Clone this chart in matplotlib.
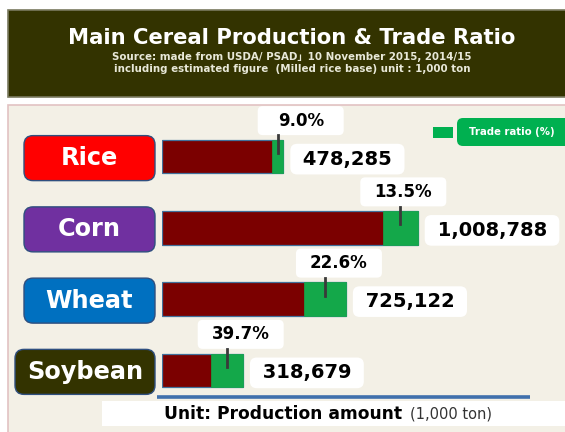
import matplotlib
matplotlib.use('Agg')
import matplotlib.pyplot as plt
from matplotlib.patches import FancyBboxPatch, Rectangle

# ---------------- data ----------------
categories = ['Rice', 'Corn', 'Wheat', 'Soybean']
production = [478285, 1008788, 725122, 318679]      # 1,000 ton
trade_ratio = [9.0, 13.5, 22.6, 39.7]               # %

title = 'Main Cereal Production & Trade Ratio'
subtitle1 = 'Source: made from USDA/ PSAD\u300d10 November 2015, 2014/15'
subtitle2 = 'including estimated figure  (Milled rice base) unit : 1,000 ton'
legend_label = 'Trade ratio (%)'
unit_main = 'Unit: Production amount'
unit_sub = '(1,000 ton)'

# ---------------- styles / layout ----------------
cat_colors = ['#ff0000', '#7030a0', '#0070c0', '#333300']
cat_box_left = [24, 24, 24, 15]         # px
pct_dx = [23, 3, 14, 14]                # px offset of % label from green centre
BAR_RED = '#7b0000'
GREEN = '#14a84a'
LEG_GREEN = '#00b050'
FAMILY = ['DejaVu Sans', 'Noto Sans CJK JP']

W, H = 565, 432
fig = plt.figure(figsize=(W / 100, H / 100), dpi=100)
fig.patch.set_facecolor('white')

bg = fig.add_axes([0, 0, 1, 1])
bg.set_xlim(0, W); bg.set_ylim(H, 0); bg.axis('off')

# bar axes
ax = fig.add_axes([162 / W, (H - 406) / H, 380 / W, 285 / H])
ax.set_xlim(0, 1_500_000)
ax.set_ylim(len(categories) - 0.5, -0.5)
ax.axis('off')
ax.patch.set_alpha(0)

fg = fig.add_axes([0, 0, 1, 1])
fg.set_xlim(0, W); fg.set_ylim(H, 0); fg.axis('off')
fg.patch.set_alpha(0)

# ---------------- background decorations ----------------
bg.add_patch(Rectangle((8, 10), W, 87, facecolor='#333300', edgecolor='#7a7a60', lw=1.2))
bg.add_patch(Rectangle((8, 105), W, H, facecolor='#f3f0e6', edgecolor='#e2c2c2', lw=1.2))
bg.text(292, 38, title, color='white', fontsize=15.2, fontweight='bold',
        ha='center', va='center', family=FAMILY)
bg.text(292, 57, subtitle1, color='#e8e8d8', fontsize=7.4, fontweight='bold',
        ha='center', va='center', family=FAMILY)
bg.text(292, 69, subtitle2, color='#e8e8d8', fontsize=7.4, fontweight='bold',
        ha='center', va='center', family=FAMILY)

# legend
bg.add_patch(Rectangle((433, 127), 20, 11, facecolor=LEG_GREEN, edgecolor='none'))
bg.add_patch(FancyBboxPatch((457, 118), 120, 28, boxstyle='round,pad=0,rounding_size=6',
                            facecolor=LEG_GREEN, edgecolor='none'))
bg.text(512, 132, legend_label, color='white', fontsize=7.3, fontweight='bold',
        ha='center', va='center', family=FAMILY)

# unit strip
bg.add_patch(Rectangle((102, 401), W, 25, facecolor='white', edgecolor='none'))
bg.plot([157, 530], [397, 397], color='#4070ac', lw=2.6, solid_capstyle='butt')
t_unit = bg.text(164, 414, unit_main, color='black', fontsize=12.3, fontweight='bold',
                 ha='left', va='center', family=FAMILY)
bg.annotate(unit_sub, xy=(1, 0.5), xycoords=t_unit, xytext=(6, 0),
            textcoords='offset points', ha='left', va='center',
            fontsize=10.5, color='#333333', family=FAMILY)

# ---------------- bars ----------------
ypos = list(range(len(categories)))
trade_amt = [p * r / 100 for p, r in zip(production, trade_ratio)]
ax.barh(ypos, production, height=0.47, color=BAR_RED, edgecolor='#41719c', lw=0.9)
ax.barh(ypos, trade_amt, left=[p - t for p, t in zip(production, trade_amt)],
        height=0.47, color=GREEN, edgecolor=GREEN, lw=0.5)

inv = fg.transData.inverted()


def to_px(x, y):
    return inv.transform(ax.transData.transform((x, y)))


for i, (cat, p, r, t) in enumerate(zip(categories, production, trade_ratio, trade_amt)):
    cx, cy = to_px(0, i)
    # category label box
    left = cat_box_left[i]
    fg.add_patch(FancyBboxPatch((left, cy + 1.5 - 22.5), 155 - left, 45,
                                boxstyle='round,pad=0,rounding_size=9',
                                facecolor=cat_colors[i], edgecolor='#2f4f7f', lw=1.0))
    fg.text((left + 155) / 2, cy + 1.5, cat, color='white', fontsize=17.3,
            fontweight='bold', ha='center', va='center', family=FAMILY)

    # value label
    ex, ey = to_px(p, i)
    fg.text(ex + 13, ey + 2.5, f' {p:,} ', color='black', fontsize=14, fontweight='bold',
            ha='left', va='center', family=FAMILY,
            bbox=dict(boxstyle='round,pad=0.3,rounding_size=0.35', fc='white', ec='none'))

    # trade ratio label + leader tick
    mx, my = to_px(p - t / 2, i)
    bx, by = mx + pct_dx[i], my - 36
    fg.add_patch(FancyBboxPatch((bx - 43, by - 14.5), 86, 29,
                                boxstyle='round,pad=0,rounding_size=5',
                                facecolor='white', edgecolor='none'))
    fg.text(bx, by, f'{r:.1f}%', color='black', fontsize=12, fontweight='bold',
            ha='center', va='center', family=FAMILY)
    _, ty0 = to_px(p - t / 2, i - 0.3)
    _, ty1 = to_px(p - t / 2, i - 0.05)
    fg.plot([mx, mx], [ty0, ty1], color='#3a3a3a', lw=2)

fig.savefig('out.png', dpi=100)
